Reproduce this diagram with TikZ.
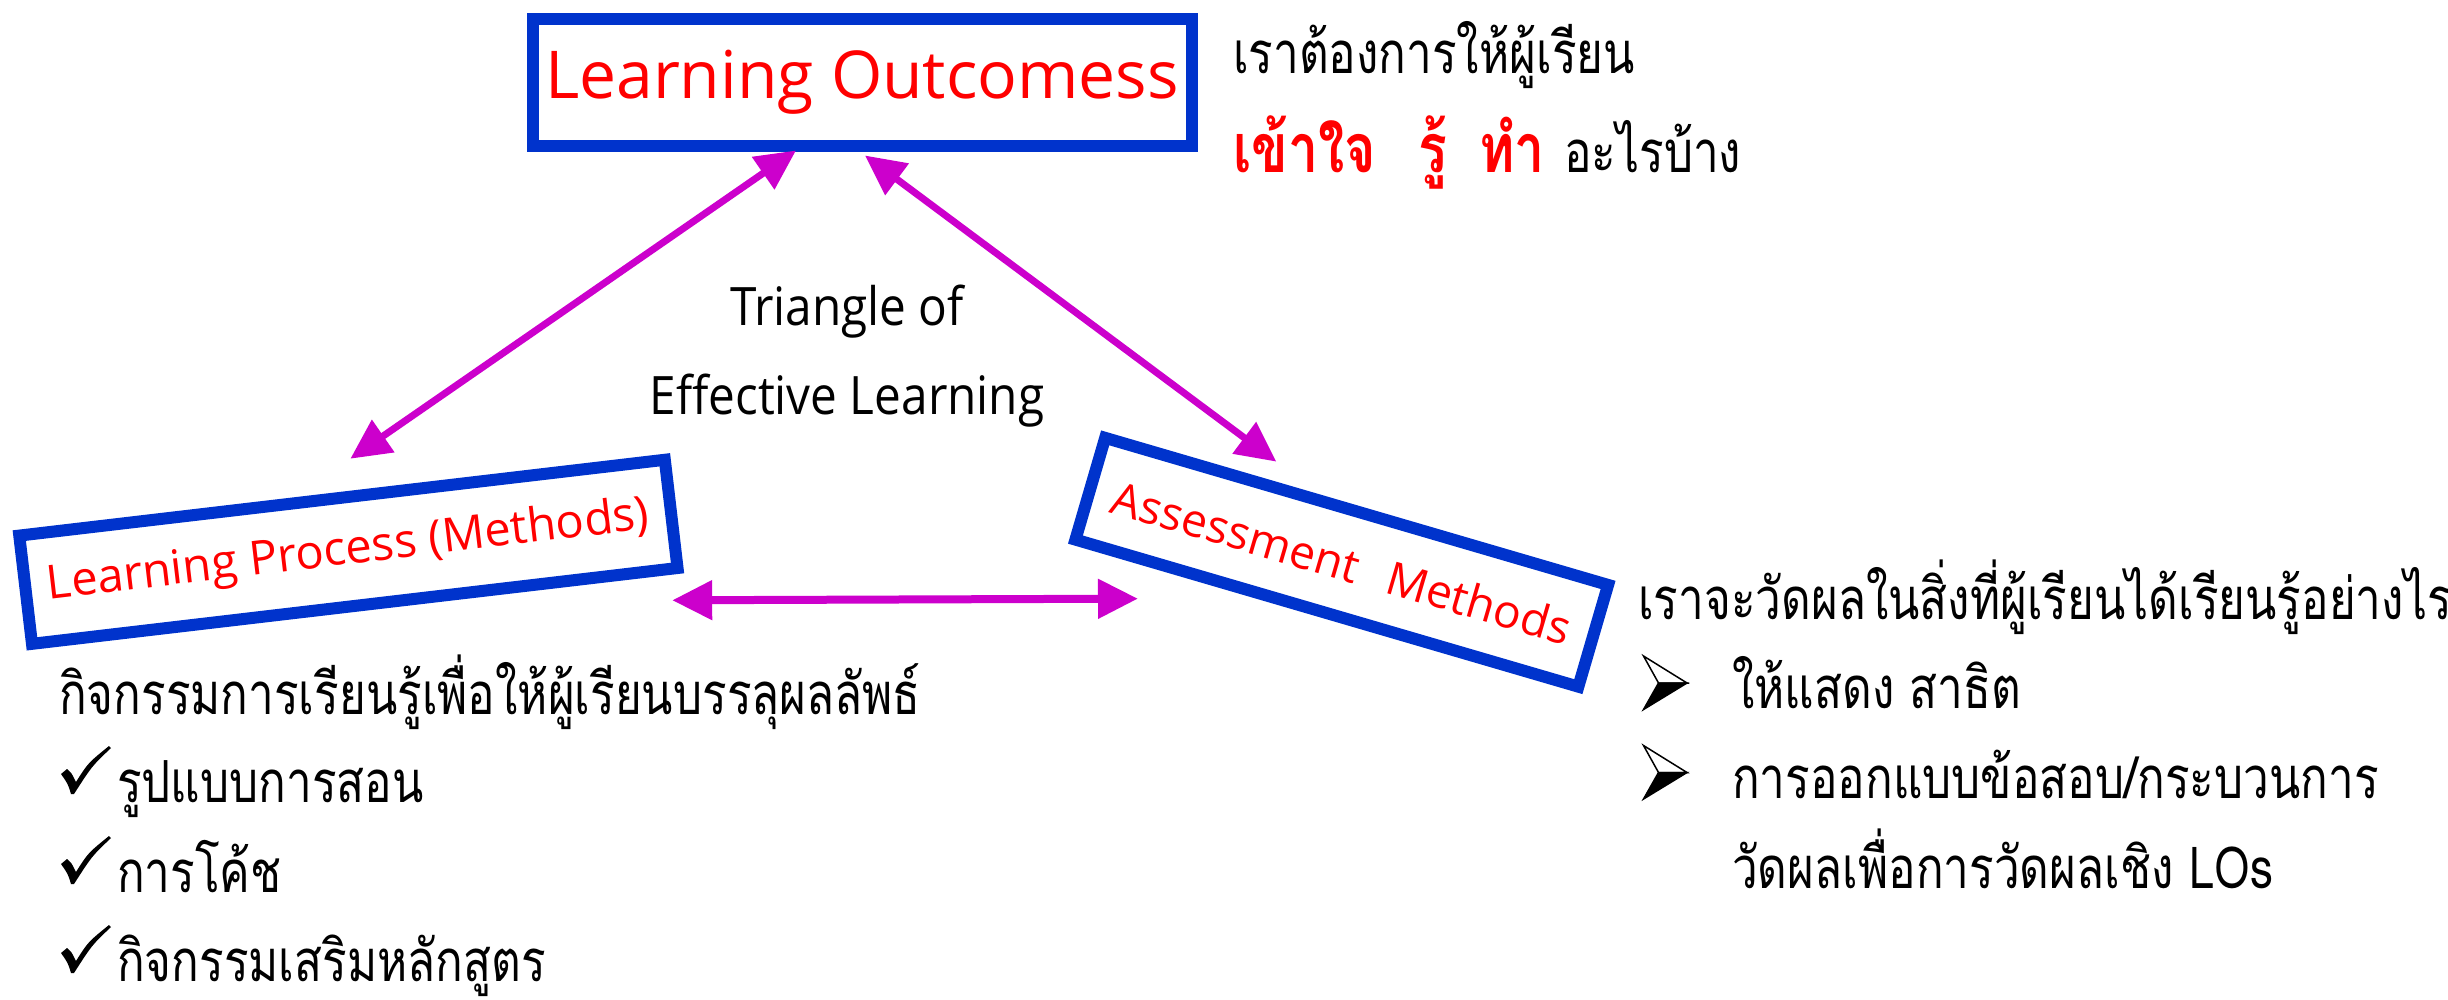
\documentclass[tikz,border=0pt]{standalone}
\usepackage{fontspec}
\setmainfont{Open Sans}
\newfontfamily\thai[Script=Thai,FakeStretch=0.79]{Loma}
\newfontfamily\narrowsans[FakeStretch=0.9]{Open Sans}
\usetikzlibrary{calc,arrows.meta}
\definecolor{boxblue}{RGB}{0,51,204}
\definecolor{arrmag}{RGB}{204,0,204}
\definecolor{txtred}{RGB}{255,0,0}
\tikzset{
  bluebox/.style={draw=boxblue, line width=12pt, rectangle, inner sep=0pt, text=txtred},
  arr/.style={arrmag, line width=7pt, {Triangle[length=40pt,width=38pt]}-{Triangle[length=40pt,width=38pt]}},
  thaitxt/.style={anchor=base west, inner sep=0pt, font=\thai\fontsize{58pt}{70pt}\selectfont},
  tri/.style={anchor=base, inner sep=0pt, font=\narrowsans\fontsize{53pt}{60pt}\selectfont},
  ckmark/.pic={\fill (0,1) -- (6,-4) .. controls (10,-1) .. (15,9) .. controls (27,-10) .. (48,-27) -- (50,-25) .. controls (31,-7) .. (13,21) -- (10,21) .. controls (7,11) .. cycle;},
  arrowbullet/.pic={\filldraw[fill=white, draw=black, line width=1.5pt, line join=miter] (0,0) -- (43.5,27) -- (15,27) -- cycle;
                    \filldraw[fill=black, draw=black, line width=1.5pt, line join=miter] (15,27) -- (43.5,27) -- (0,53.5) -- cycle;}
}
\begin{document}
\begin{tikzpicture}[x=1pt,y=-1pt]
\useasboundingbox (0,0) rectangle (2448,999);
% boxes
\node[bluebox, minimum width=659pt, minimum height=127pt, font=\fontsize{66pt}{79pt}\selectfont] (lo) at (862,82) {Learning Outcomess};
\node[bluebox, minimum width=650pt, minimum height=109pt, rotate=6.7, font=\fontsize{47pt}{55pt}\selectfont] (lp) at (348.4,551.8) {Learning Process (Methods)};
\node[bluebox, minimum width=524pt, minimum height=106pt, rotate=-16.3, font=\fontsize{46pt}{55pt}\selectfont] (am) at (1341.75,562.25) {Assessment\hspace{0.4em} Methods};
% arrows
\draw[arr] ($(lo.south)+(-66,-1)$) -- ($(lp.north)+(9,-33)$);
\draw[arr] ($(lo.south)+(3,4)$) -- ($(am.north)+(-82,-44)$);
\draw[arr, line width=8pt] ($(lp.south east)+(-12,27)$) -- ($(am.south west)+(70,55)$);
% center label
\node[tri] (t1) at (847,325) {Triangle of};
\node[tri] (t2) at (847,414) {Effective Learning};
% top right text
\node[thaitxt] (q1) at (1233,73) {เราต้องการให้ผู้เรียน};
\node[thaitxt, text=txtred, font=\thai\bfseries\fontsize{68pt}{80pt}\selectfont] (q2) at (1233,172) {เข้าใจ\hspace{42pt}รู้\hspace{32pt}ทำ};
\node[thaitxt] (q3) at (1564,172) {อะไรบ้าง};
% left text
\node[thaitxt] (l1) at (59,714) {กิจกรรมการเรียนรู้เพื่อให้ผู้เรียนบรรลุผลลัพธ์};
\pic at (61,773) {ckmark};
\node[thaitxt] (l2) at (117,802) {รูปแบบการสอน};
\pic at (61,863) {ckmark};
\node[thaitxt] (l3) at (117,892) {การโค้ช};
\pic at (61,952) {ckmark};
\node[thaitxt] (l4) at (117,981) {กิจกรรมเสริมหลักสูตร};
% right text
\node[thaitxt] (r1) at (1638,619) {เราจะวัดผลในสิ่งที่ผู้เรียนได้เรียนรู้อย่างไร};
\pic at (1643.5,656) {arrowbullet};
\node[thaitxt] (r2) at (1732,708) {ให้แสดง สาธิต};
\pic at (1643.5,745.5) {arrowbullet};
\node[thaitxt] (r3) at (1732,798) {การออกแบบข้อสอบ/กระบวนการ};
\node[thaitxt] (r4) at (1732,888) {วัดผลเพื่อการวัดผลเชิง LOs};
\end{tikzpicture}
\end{document}
